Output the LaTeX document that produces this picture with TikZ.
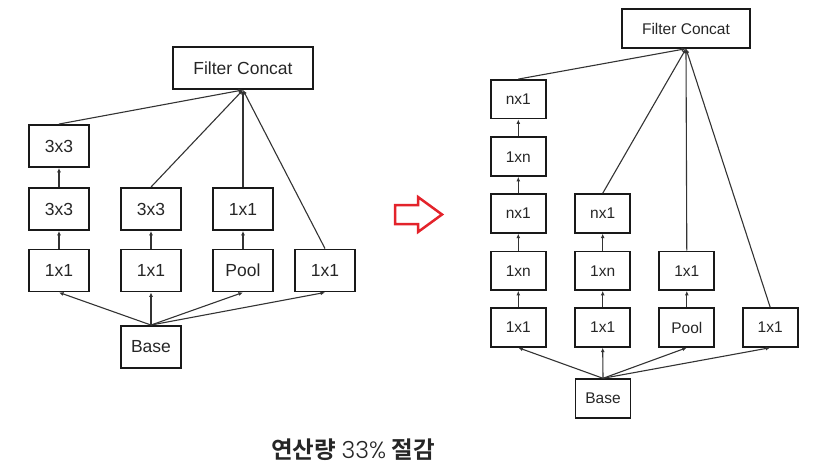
\documentclass[tikz,border=0pt]{standalone}
\usepackage{fontspec}
\setmainfont{Liberation Sans}
\newfontfamily\krfont{Noto Sans CJK KR}[BoldFont={Noto Sans CJK KR Bold}]
\newfontfamily\thinfont{Poppins Light}
\usetikzlibrary{arrows.meta}
\definecolor{flechaRoja}{HTML}{E3232B}

\tikzset{
	caja/.style={rectangle, draw=black!90, line width=1.9pt, text=black!85, minimum width=60pt, minimum height=42pt, inner sep=0pt, font=\fontsize{17.5}{17.5}\selectfont},
	cajita/.style={caja, minimum width=55pt, minimum height=38.5pt, font=\fontsize{15.5}{15.5}\selectfont},
	flecha/.style={-{Latex[length=4.5pt,width=4pt]}, line width=1.1pt, draw=black!80},
}

\begin{document}
\begin{tikzpicture}[x=1pt, y=-1pt]
				\useasboundingbox (0,0) rectangle (833,468);
				
				%%% ANTES
				\node[caja, minimum width=140pt] (fcA) at (243,68) {Filter Concat};
				\node[caja] (l11) at (59,146) {3x3};
				\node[caja] (l12) at (59,209) {3x3};
				\node[caja] (l22) at (151,209) {3x3};
				\node[caja] (l32) at (243,209) {1x1};
				\node[caja] (l13) at (59,270.5) {1x1};
				\node[caja] (l23) at (151,270.5) {1x1};
				\node[caja] (l33) at (243,270.5) {Pool};
				\node[caja] (l43) at (325,270.5) {1x1};
				\node[caja] (baseA) at (151,347) {Base};
				
				\draw[flecha] (baseA.north) -- (l13.south);
				\draw[flecha] (baseA.north) -- (l23.south);
				\draw[flecha] (baseA.north) -- (l33.south);
				\draw[flecha] (baseA.north) -- (l43.south);
				\draw[flecha] (l13) -- (l12);
				\draw[flecha] (l12) -- (l11);
				\draw[flecha] (l23) -- (l22);
				\draw[flecha] (l33) -- (l32);
				\draw[flecha] (l11.north) -- (fcA.south);
				\draw[flecha] (l22.north) -- (fcA.south);
				\draw[flecha] (l32.north) -- (fcA.south);
				\draw[flecha] (l43.north) -- (fcA.south);
				
				%%% FLECHA
				\draw[flechaRoja, line width=2.5pt, line join=miter] (395,205) -- (418,205) -- (418,197) -- (442,214.5) -- (418,232) -- (418,224) -- (395,224) -- cycle;
				
				%%% DESPUES
				\node[cajita, minimum width=128pt] (fcB) at (686,28.5) {Filter Concat};
				\node[cajita] (r11) at (518.3,99.3) {nx1};
				\node[cajita] (r12) at (518.3,156.7) {1xn};
				\node[cajita] (r13) at (518.3,213.5) {nx1};
				\node[cajita] (r23) at (602.7,213.5) {nx1};
				\node[cajita] (r14) at (518.3,270.7) {1xn};
				\node[cajita] (r24) at (602.7,270.7) {1xn};
				\node[cajita] (r34) at (686.8,270.7) {1x1};
				\node[cajita] (r15) at (518.3,327.5) {1x1};
				\node[cajita] (r25) at (602.7,327.5) {1x1};
				\node[cajita] (r35) at (686.8,327.5) {Pool};
				\node[cajita] (r45) at (770.2,327.5) {1x1};
				\node[cajita] (baseB) at (603,398.5) {Base};
				
				\draw[flecha] (baseB.north) -- (r15.south);
				\draw[flecha] (baseB.north) -- (r25.south);
				\draw[flecha] (baseB.north) -- (r35.south);
				\draw[flecha] (baseB.north) -- (r45.south);
				\draw[flecha] (r15) -- (r14);
				\draw[flecha] (r14) -- (r13);
				\draw[flecha] (r13) -- (r12);
				\draw[flecha] (r12) -- (r11);
				\draw[flecha] (r25) -- (r24);
				\draw[flecha] (r24) -- (r23);
				\draw[flecha] (r35) -- (r34);
				\draw[flecha] (r11.north) -- (fcB.south);
				\draw[flecha] (r23.north) -- (fcB.south);
				\draw[flecha] (r34.north) -- (fcB.south);
				\draw[flecha] (r45.north) -- (fcB.south);
				
				%%% TEXTO
				\node[font=\fontsize{23.5}{23.5}\selectfont, text=black!85] (nota) at (353,450) {\krfont\bfseries 연산량 {\thinfont\mdseries 33\%} 절감};
			\end{tikzpicture}
\end{document}
